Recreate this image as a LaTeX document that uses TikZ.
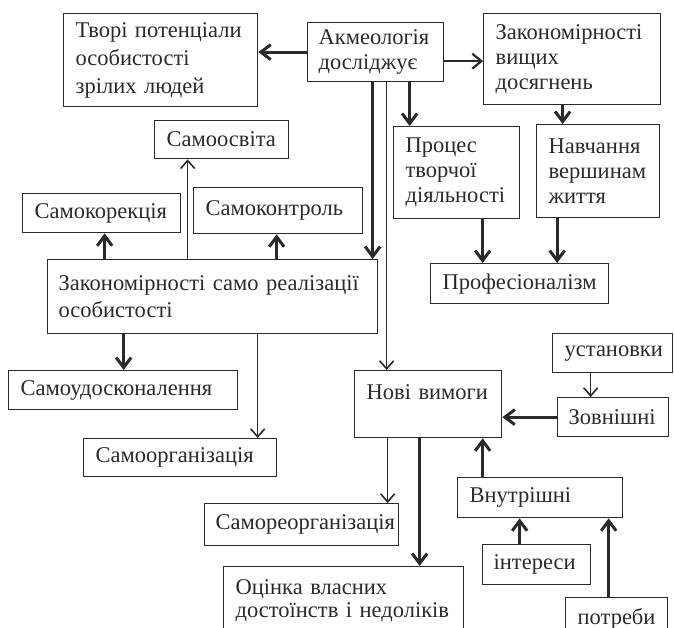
\documentclass[tikz,border=0pt]{standalone}
\usepackage{fontspec}
\setmainfont{Liberation Serif}
\usetikzlibrary{arrows.meta,calc}
\definecolor{ink}{HTML}{2A2A2A}
\tikzset{
  box/.style={draw=ink, line width=1.3pt, anchor=north west, align=left,
    inner xsep=12pt, inner ysep=0pt, text=ink,
    font=\fontsize{22.5}{25}\selectfont},
  thk/.style={draw=ink, line width=3pt, -{Straight Barb[length=10pt,width=15pt]}},
  mid/.style={draw=ink, line width=2.2pt, -{Straight Barb[length=9pt,width=15pt]}},
  thn/.style={draw=ink, line width=1.6pt, -{Straight Barb[length=8pt,width=14pt]}},
}
\begin{document}
\begin{tikzpicture}[x=1pt,y=-1pt]
\useasboundingbox (0,0) rectangle (674,628);
\clip (0,0) rectangle (674,628);
% boxes
\node[box, text width=170pt, minimum height=93pt, font=\fontsize{22.5}{28}\selectfont] (tvori) at (63,13) {\mbox{Творі потенціали}\\особистості\\зрілих людей};
\node[box, inner xsep=11pt, text width=114pt, minimum height=59pt] (akm) at (307,22) {\mbox{Акмеологія}\\досліджує};
\node[box, text width=153pt, minimum height=91pt] (zvd) at (483,13) {\mbox{Закономірності}\\вищих\\досягнень};
\node[box, text width=110pt, minimum height=38pt] (samoosv) at (154,120) {Самоосвіта};
\node[box, text width=102pt, minimum height=92pt] (proc) at (393,126) {Процес\\творчої\\\mbox{діяльності}};
\node[box, text width=99pt, minimum height=93pt] (nav) at (536,124) {Навчання\\\mbox{вершинам}\\життя};
\node[box, text width=134pt, minimum height=39pt] (samokor) at (22,193) {\mbox{Самокорекція}};
\node[box, text width=145pt, minimum height=46pt] (samokon) at (193,187) {\mbox{Самоконтроль}};
\node[box, inner xsep=11pt, text width=308pt, minimum height=74pt, font=\fontsize{22.5}{27}\selectfont] (zsr) at (47,259) {\mbox{Закономірності само реалізації}\\особистості};
\node[box, text width=154pt, minimum height=40pt] (prof) at (430,263) {\mbox{Професіоналізм}};
\node[box, text width=96pt, minimum height=39pt] (ustan) at (552,333) {\mbox{установки}};
\node[box, text width=205pt, minimum height=39pt] (samoud) at (8,370) {\mbox{Самоудосконалення}};
\node[box, text width=123pt, minimum height=67pt] (nv) at (354,370) {Нові вимоги\\\mbox{}};
\node[box, inner xsep=11pt, text width=89pt, minimum height=39pt] (zovn) at (557,397) {\mbox{Зовнішні}};
\node[box, text width=169pt, minimum height=38pt] (samoorg) at (83,438) {\mbox{Самоорганізація}};
\node[box, text width=141pt, minimum height=40pt] (vnutr) at (457,477) {\mbox{Внутрішні}};
\node[box, inner xsep=11pt, text width=172pt, minimum height=42pt] (samoreorg) at (204,503) {\mbox{Самореорганізація}};
\node[box, inner xsep=11pt, text width=86pt, minimum height=40pt] (inter) at (482,544) {\mbox{інтереси}};
\node[box, text width=216pt, minimum height=68pt, font=\fontsize{22.5}{23}\selectfont] (ocinka) at (223,566) {Оцінка власних\\\mbox{достоїнств і недоліків}};
\node[box, text width=78pt, minimum height=42pt] (potr) at (565,597) {\mbox{потреби}};
% connectors
\draw[thk] (akm.west) -- (akm.west -| tvori.east);
\draw[mid] ([yshift=-9pt]akm.east) -- ([yshift=-9pt]akm.east -| zvd.west);
\draw[thk] ([xshift=34pt]akm.south) -- ([xshift=34pt]akm.south |- proc.north);
\draw[thk] ([xshift=-3pt]akm.south) -- ([xshift=-3pt]akm.south |- zsr.north);
\draw[thn] ([xshift=11pt]akm.south) -- ([xshift=11pt]akm.south |- nv.north);
\draw[thk] ([xshift=-9.5pt]zvd.south) -- ([xshift=-9.5pt]zvd.south |- nav.north);
\draw[thk] ([xshift=26pt]proc.south) -- ([xshift=26pt]proc.south |- prof.north);
\draw[thk] ([xshift=-41pt]nav.south) -- ([xshift=-41pt]nav.south |- prof.north);
\draw[thk] ([xshift=-108pt]zsr.north) -- ([xshift=-108pt]zsr.north |- samokor.south);
\draw[thk] ([xshift=64pt]zsr.north) -- ([xshift=64pt]zsr.north |- samokon.south);
\draw[thn] ([xshift=-25pt]zsr.north) -- ([xshift=-25pt]zsr.north |- samoosv.south);
\draw[thk] ([xshift=-89pt]zsr.south) -- ([xshift=-89pt]zsr.south |- samoud.north);
\draw[thn] ([xshift=45pt]zsr.south) -- ([xshift=45pt]zsr.south |- samoorg.north);
\draw[thn] ([xshift=-40.5pt]nv.south) -- ([xshift=-40.5pt]nv.south |- samoreorg.north);
\draw[thk] ([xshift=-8.5pt]nv.south) -- ([xshift=-8.5pt]nv.south |- ocinka.north);
\draw[thn] ([xshift=-22pt]ustan.south) -- ([xshift=-22pt]ustan.south |- zovn.north);
\draw[thk] (zovn.west) -- (zovn.west -| nv.east);
\draw[thk] ([xshift=-57.5pt]vnutr.north) -- ([xshift=-57.5pt]vnutr.north |- nv.south);
\draw[thk] ([xshift=-17pt]inter.north) -- ([xshift=-17pt]inter.north |- vnutr.south);
\draw[thk] ([xshift=-8pt]potr.north) -- ([xshift=-8pt]potr.north |- vnutr.south);
\end{tikzpicture}
\end{document}
